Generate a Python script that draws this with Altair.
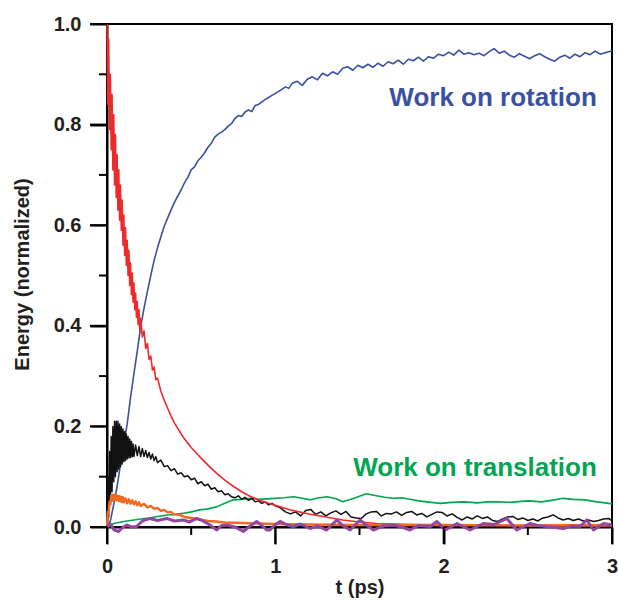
import altair as alt
import pandas as pd

# ---------------- data ----------------
blue_t = [0, 0.02, 0.04, 0.06, 0.08, 0.10, 0.12, 0.14, 0.16, 0.18, 0.20, 0.22, 0.24, 0.26, 0.28, 0.30,
          0.32, 0.34, 0.36, 0.38, 0.40, 0.42, 0.44, 0.46, 0.48, 0.50, 0.52, 0.54, 0.56, 0.58, 0.60,
          0.62, 0.64, 0.66, 0.68, 0.70, 0.72, 0.74, 0.76, 0.78, 0.80, 0.82, 0.84, 0.86, 0.88, 0.90,
          0.92, 0.95, 0.98, 1.00, 1.03, 1.06, 1.08, 1.10, 1.13, 1.16, 1.19, 1.22, 1.25, 1.28, 1.31,
          1.34, 1.37, 1.40, 1.43, 1.46, 1.49, 1.52, 1.55, 1.58, 1.61, 1.64, 1.67, 1.70, 1.73, 1.76,
          1.79, 1.82, 1.85, 1.88, 1.91, 1.94, 1.97, 2.00, 2.03, 2.06, 2.09, 2.12, 2.15, 2.18, 2.21,
          2.24, 2.27, 2.30, 2.33, 2.36, 2.39, 2.42, 2.45, 2.48, 2.51, 2.54, 2.57, 2.60, 2.63, 2.66,
          2.69, 2.72, 2.75, 2.78, 2.81, 2.84, 2.87, 2.90, 2.93, 2.96, 3.00]
blue_y = [0, 0.012, 0.045, 0.08, 0.125, 0.165, 0.205, 0.258, 0.305, 0.35, 0.398, 0.435, 0.468, 0.5,
          0.53, 0.555, 0.577, 0.598, 0.614, 0.63, 0.645, 0.658, 0.67, 0.684, 0.695, 0.71, 0.716,
          0.728, 0.735, 0.744, 0.755, 0.763, 0.775, 0.781, 0.785, 0.79, 0.797, 0.802, 0.812, 0.818,
          0.816, 0.825, 0.829, 0.826, 0.838, 0.84, 0.845, 0.852, 0.858, 0.862, 0.868, 0.875, 0.872,
          0.882, 0.886, 0.878, 0.89, 0.895, 0.889, 0.902, 0.897, 0.905, 0.9, 0.912, 0.915, 0.908,
          0.918, 0.913, 0.92, 0.914, 0.922, 0.916, 0.925, 0.921, 0.928, 0.92, 0.93, 0.927, 0.934,
          0.926, 0.935, 0.932, 0.94, 0.937, 0.944, 0.938, 0.948, 0.94, 0.943, 0.939, 0.942, 0.937,
          0.945, 0.951, 0.942, 0.946, 0.938, 0.934, 0.941, 0.936, 0.931, 0.937, 0.941, 0.935, 0.93,
          0.926, 0.934, 0.938, 0.932, 0.94, 0.935, 0.943, 0.939, 0.946, 0.94, 0.943, 0.947]

red_t = [0, 0.005, 0.01, 0.015, 0.02, 0.025, 0.03, 0.035, 0.04, 0.045, 0.05, 0.055, 0.06, 0.065,
         0.07, 0.075, 0.08, 0.085, 0.09, 0.095, 0.10, 0.105, 0.11, 0.115, 0.12, 0.125, 0.13, 0.135,
         0.14, 0.145, 0.15, 0.155, 0.16, 0.165, 0.17, 0.175, 0.18, 0.185, 0.19, 0.195, 0.20, 0.21,
         0.22, 0.23, 0.24, 0.25, 0.26, 0.27, 0.28, 0.29, 0.30, 0.32, 0.34, 0.36, 0.38, 0.40, 0.45,
         0.50, 0.55, 0.60, 0.65, 0.70, 0.75, 0.80, 0.85, 0.90, 0.95, 1.00, 1.10, 1.20, 1.30, 1.40,
         1.50, 1.60, 1.80, 2.00, 2.50, 3.00]
red_y = [1.0, 0.84, 0.97, 0.79, 0.90, 0.75, 0.86, 0.71, 0.82, 0.68, 0.78, 0.655, 0.74, 0.63, 0.71,
         0.61, 0.68, 0.59, 0.65, 0.56, 0.62, 0.54, 0.595, 0.52, 0.57, 0.50, 0.55, 0.48, 0.525, 0.462,
         0.505, 0.447, 0.485, 0.432, 0.465, 0.417, 0.448, 0.402, 0.432, 0.39, 0.415, 0.378, 0.39,
         0.355, 0.365, 0.333, 0.34, 0.312, 0.318, 0.293, 0.296, 0.27, 0.252, 0.236, 0.221, 0.207,
         0.18, 0.158, 0.14, 0.123, 0.107, 0.093, 0.081, 0.07, 0.061, 0.054, 0.048, 0.043, 0.033,
         0.026, 0.02, 0.014, 0.01, 0.007, 0.005, 0.004, 0.003, 0.002]

black_t = [0, 0.005, 0.01, 0.015, 0.02, 0.025, 0.03, 0.035, 0.04, 0.045, 0.05, 0.055, 0.06, 0.065,
           0.07, 0.075, 0.08, 0.085, 0.09, 0.095, 0.10, 0.105, 0.11, 0.115, 0.12, 0.125, 0.13, 0.135,
           0.14, 0.145, 0.15, 0.155, 0.16, 0.17, 0.18, 0.19, 0.20, 0.21, 0.22, 0.23, 0.24, 0.25, 0.26,
           0.27, 0.28, 0.29, 0.30, 0.32, 0.34, 0.36, 0.38, 0.40, 0.42, 0.44, 0.46, 0.48, 0.50, 0.52,
           0.54, 0.56, 0.58, 0.60, 0.62, 0.64, 0.66, 0.68, 0.70, 0.72, 0.74, 0.76, 0.78, 0.80, 0.82,
           0.84, 0.86, 0.88, 0.90, 0.92, 0.94, 0.96, 0.98, 1.00, 1.03, 1.06, 1.09, 1.12, 1.15, 1.18,
           1.21, 1.24, 1.27, 1.30, 1.33, 1.36, 1.39, 1.42, 1.45, 1.48, 1.51, 1.54, 1.57, 1.60, 1.63,
           1.66, 1.69, 1.72, 1.75, 1.78, 1.81, 1.84, 1.87, 1.90, 1.93, 1.96, 1.99, 2.02, 2.05, 2.08,
           2.11, 2.14, 2.17, 2.20, 2.23, 2.26, 2.29, 2.32, 2.35, 2.38, 2.41, 2.44, 2.47, 2.50, 2.53,
           2.56, 2.59, 2.62, 2.65, 2.68, 2.71, 2.74, 2.77, 2.80, 2.83, 2.86, 2.89, 2.92, 2.95, 2.98,
           3.00]
black_y = [0, 0.10, 0.02, 0.15, 0.05, 0.18, 0.07, 0.20, 0.09, 0.21, 0.10, 0.21, 0.11, 0.21, 0.115,
           0.205, 0.12, 0.20, 0.125, 0.195, 0.13, 0.19, 0.132, 0.185, 0.135, 0.18, 0.137, 0.175,
           0.138, 0.17, 0.14, 0.165, 0.14, 0.163, 0.142, 0.16, 0.14, 0.156, 0.14, 0.152, 0.138, 0.148,
           0.135, 0.145, 0.132, 0.14, 0.128, 0.133, 0.12, 0.122, 0.112, 0.116, 0.105, 0.108, 0.10,
           0.102, 0.094, 0.097, 0.086, 0.09, 0.082, 0.085, 0.075, 0.078, 0.07, 0.072, 0.064, 0.066,
           0.06, 0.058, 0.062, 0.055, 0.059, 0.053, 0.057, 0.05, 0.052, 0.047, 0.05, 0.044, 0.047,
           0.042, 0.038, 0.03, 0.026, 0.03, 0.022, 0.033, 0.035, 0.025, 0.03, 0.022, 0.028, 0.032,
           0.025, 0.031, 0.02, 0.018, 0.017, 0.026, 0.03, 0.031, 0.022, 0.027, 0.026, 0.03, 0.023,
           0.029, 0.031, 0.024, 0.027, 0.02, 0.025, 0.03, 0.029, 0.022, 0.026, 0.019, 0.014, 0.02,
           0.016, 0.022, 0.017, 0.02, 0.013, 0.011, 0.016, 0.02, 0.021, 0.015, 0.018, 0.013, 0.016,
           0.012, 0.018, 0.02, 0.024, 0.018, 0.014, 0.017, 0.013, 0.016, 0.012, 0.014, 0.011, 0.013,
           0.016, 0.017, 0.012]

green_t = [0, 0.04, 0.10, 0.16, 0.20, 0.25, 0.30, 0.36, 0.40, 0.45, 0.50, 0.55, 0.60, 0.65, 0.70,
           0.75, 0.80, 0.85, 0.90, 0.95, 1.00, 1.05, 1.11, 1.16, 1.21, 1.26, 1.31, 1.36, 1.40, 1.45,
           1.50, 1.54, 1.60, 1.65, 1.70, 1.75, 1.80, 1.85, 1.90, 1.98, 2.05, 2.12, 2.20, 2.26, 2.32,
           2.40, 2.46, 2.51, 2.58, 2.64, 2.71, 2.77, 2.84, 2.91, 2.96, 3.00]
green_y = [0, 0.007, 0.011, 0.014, 0.016, 0.018, 0.021, 0.024, 0.025, 0.027, 0.03, 0.034, 0.036,
           0.04, 0.047, 0.054, 0.055, 0.057, 0.055, 0.056, 0.057, 0.058, 0.06, 0.057, 0.054, 0.058,
           0.06, 0.056, 0.05, 0.055, 0.061, 0.066, 0.062, 0.059, 0.057, 0.058, 0.055, 0.052, 0.05,
           0.047, 0.049, 0.05, 0.048, 0.05, 0.05, 0.049, 0.051, 0.052, 0.05, 0.053, 0.057, 0.055,
           0.054, 0.05, 0.048, 0.046]

orange_t = [0, 0.005, 0.01, 0.015, 0.02, 0.025, 0.03, 0.035, 0.04, 0.045, 0.05, 0.055, 0.06, 0.065,
            0.07, 0.075, 0.08, 0.085, 0.09, 0.095, 0.10, 0.11, 0.12, 0.13, 0.14, 0.15, 0.16, 0.17,
            0.18, 0.19, 0.20, 0.22, 0.24, 0.26, 0.28, 0.30, 0.32, 0.34, 0.36, 0.38, 0.40, 0.43, 0.46,
            0.50, 0.55, 0.60, 0.65, 0.70, 0.80, 0.90, 1.00, 1.20, 1.50, 2.00, 2.50, 3.00]
orange_y = [0, 0.03, 0.028, 0.05, 0.045, 0.062, 0.052, 0.064, 0.054, 0.064, 0.054, 0.063, 0.053,
            0.062, 0.052, 0.061, 0.051, 0.06, 0.05, 0.059, 0.049, 0.057, 0.047, 0.055, 0.046, 0.053,
            0.045, 0.051, 0.043, 0.049, 0.042, 0.046, 0.039, 0.042, 0.036, 0.038, 0.032, 0.034,
            0.029, 0.03, 0.025, 0.024, 0.02, 0.018, 0.015, 0.012, 0.011, 0.009, 0.008, 0.007, 0.006,
            0.005, 0.004, 0.004, 0.003, 0.004]

purple_t = [0, 0.018, 0.04, 0.067, 0.09, 0.117, 0.145, 0.176, 0.21, 0.255, 0.30, 0.355, 0.40, 0.453,
            0.49, 0.533, 0.57, 0.612, 0.652, 0.68, 0.711, 0.76, 0.81, 0.85, 0.889, 0.92, 0.949, 0.968,
            1.00, 1.028, 1.07, 1.107, 1.15, 1.206, 1.25, 1.305, 1.365, 1.40, 1.444, 1.503, 1.54,
            1.582, 1.64, 1.70, 1.75, 1.80, 1.85, 1.92, 1.96, 2.01, 2.08, 2.157, 2.236, 2.30, 2.375,
            2.434, 2.513, 2.56, 2.613, 2.711, 2.76, 2.81, 2.85, 2.89, 2.95, 3.00]
purple_y = [0, 0.007, -0.005, -0.009, -0.002, 0.004, 0.0, 0.001, 0.012, 0.017, 0.013, 0.017, 0.012,
            0.014, 0.01, 0.017, 0.012, 0.004, -0.006, 0.003, 0.004, 0.0, -0.009, 0.002, 0.011, 0.003,
            -0.006, -0.006, 0.005, 0.011, 0.004, 0.001, 0.006, -0.003, 0.002, -0.006, 0.014, 0.003,
            -0.006, 0.014, 0.004, -0.006, 0.002, 0.004, 0.0, -0.006, 0.003, 0.001, 0.011, -0.006,
            0.007, -0.006, 0.007, 0.005, 0.017, -0.006, 0.007, 0.003, 0.001, -0.003, 0.002, 0.001,
            0.014, -0.006, 0.007, 0.004]

x_major = [0, 1, 2, 3]
x_minor = [0.5, 1.5, 2.5]
y_major = [0.0, 0.2, 0.4, 0.6, 0.8, 1.0]
y_minor = [0.1, 0.3, 0.5, 0.7, 0.9]

labels = ["Work on rotation", "Work on translation"]
label_t = [2.91, 2.91]
label_y = [0.837, 0.101]

# ---------------- chart ----------------
FONT = "Liberation Sans"
BLUE, RED, BLACK, GREEN, ORANGE, PURPLE = "#3a51a3", "#ee2a2b", "#111111", "#00a651", "#f26a22", "#9447a0"
TICK = "#000000"

xs = alt.Scale(domain=[0, 3], nice=False, zero=False)
ys = alt.Scale(domain=[0, 1], nice=False, zero=False)
x_axis = alt.Axis(values=x_major, format="d", title="t (ps)", ticks=True, tickSize=17, tickColor=TICK,
                  tickWidth=2, labelPadding=28, labelFlush=False, labelBaseline="alphabetic",
                  titleY=66, titleBaseline="alphabetic", grid=False)
y_axis = alt.Axis(values=y_major, format=".1f", title="Energy (normalized)", ticks=True, tickSize=17,
                  tickColor=TICK, tickWidth=2, labelPadding=9, labelFlush=False, titleX=-85,
                  titleY=250, titleBaseline="middle", grid=False)


def X():
    return alt.X("t:Q", scale=xs, axis=x_axis)


def Y():
    return alt.Y("y:Q", scale=ys, axis=y_axis)


def line(ts, vs, color, width):
    df = pd.DataFrame({"t": ts, "y": vs})
    return alt.Chart(df).mark_line(color=color, strokeWidth=width, strokeJoin="round").encode(
        x=X(), y=Y(), order="t:Q")


# major ticks as thin filled bars, minor ticks as rules
y_major_marks = alt.Chart(pd.DataFrame({"y": y_major})).mark_rect(color=TICK, height=2).encode(
    y=Y(), x=alt.value(-17), x2=alt.value(0))
y_minor_marks = alt.Chart(pd.DataFrame({"y": y_minor})).mark_rule(color=TICK, strokeWidth=2).encode(
    y=Y(), x=alt.value(-8), x2=alt.value(0))
x_major_marks = alt.Chart(pd.DataFrame({"t": x_major})).mark_rect(color=TICK, width=2).encode(
    x=X(), y=alt.value(503), y2=alt.value(520))
x_minor_marks = alt.Chart(pd.DataFrame({"t": x_minor})).mark_rule(color=TICK, strokeWidth=2).encode(
    x=X(), y=alt.value(503), y2=alt.value(511))

layers = [
    line(blue_t, blue_y, BLUE, 1.6),
    line(green_t, green_y, GREEN, 1.6),
    line(black_t, black_y, BLACK, 1.5),
    line(red_t, red_y, RED, 1.6),
    line(orange_t, orange_y, ORANGE, 2.4),
    line(purple_t, purple_y, PURPLE, 3.0),
]

text_df = pd.DataFrame({"t": label_t, "y": label_y, "label": labels, "c": [BLUE, GREEN]})
texts = alt.Chart(text_df).mark_text(font=FONT, fontSize=26, fontWeight="bold", align="right",
                                     baseline="alphabetic").encode(
    x=X(), y=Y(), text="label:N", color=alt.Color("c:N", scale=None))

chart = alt.layer(*layers, texts, y_minor_marks, x_minor_marks, y_major_marks, x_major_marks).properties(
    width=505, height=503,
    autosize="none",
    padding={"left": 107, "top": 24, "right": 7, "bottom": 73},
).configure_view(
    stroke="black", strokeWidth=2
).configure_axis(
    labelFont=FONT, labelFontSize=20, labelFontWeight="bold", labelColor="#231f20",
    titleFont=FONT, titleFontSize=20, titleFontWeight="bold", titleColor="#231f20",
    domainColor="black", domainWidth=2,
)

chart.save("out.html", embed_options={"renderer": "svg", "actions": False})
